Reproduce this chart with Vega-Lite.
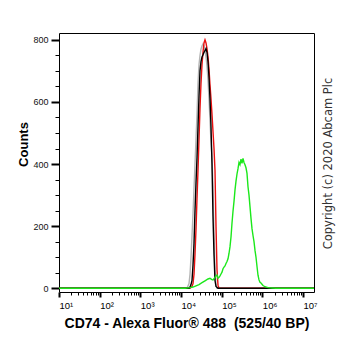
{
  "$schema": "https://vega.github.io/schema/vega-lite/v6.json",
  "width": 255,
  "height": 259,
  "autosize": {"type": "none"},
  "padding": {"left": 59, "top": 33, "right": 48, "bottom": 59},
  "background": "white",
  "config": {
    "view": {"stroke": "#000000", "strokeWidth": 1},
    "axis": {"labelFont": "Liberation Sans", "titleFont": "Liberation Sans", "tickColor": "#000000", "domain": false, "grid": false, "labelColor": "#111111", "titleColor": "#000000"}
  },
  "datasets": {
    "others": [
      {"s": "gray", "x": 10, "c": 0},
      {"s": "gray", "x": 14041, "c": 0},
      {"s": "gray", "x": 15726, "c": 15},
      {"s": "gray", "x": 16640, "c": 45},
      {"s": "gray", "x": 17610, "c": 100},
      {"s": "gray", "x": 18637, "c": 170},
      {"s": "gray", "x": 19723, "c": 240},
      {"s": "gray", "x": 20873, "c": 320},
      {"s": "gray", "x": 22083, "c": 400},
      {"s": "gray", "x": 23371, "c": 480},
      {"s": "gray", "x": 24733, "c": 560},
      {"s": "gray", "x": 26175, "c": 660},
      {"s": "gray", "x": 27701, "c": 720},
      {"s": "gray", "x": 29304, "c": 750},
      {"s": "gray", "x": 31013, "c": 770},
      {"s": "gray", "x": 32820, "c": 780},
      {"s": "gray", "x": 34734, "c": 787},
      {"s": "gray", "x": 36760, "c": 780},
      {"s": "gray", "x": 38891, "c": 765},
      {"s": "gray", "x": 41158, "c": 745},
      {"s": "gray", "x": 43558, "c": 715},
      {"s": "gray", "x": 46098, "c": 670},
      {"s": "gray", "x": 48785, "c": 610},
      {"s": "gray", "x": 51612, "c": 540},
      {"s": "gray", "x": 54621, "c": 470},
      {"s": "gray", "x": 57805, "c": 420},
      {"s": "gray", "x": 61175, "c": 330},
      {"s": "gray", "x": 64742, "c": 180},
      {"s": "gray", "x": 68495, "c": 60},
      {"s": "gray", "x": 72488, "c": 10},
      {"s": "gray", "x": 76714, "c": 0},
      {"s": "gray", "x": 18620000, "c": 0},
      {"s": "red", "x": 10, "c": 0},
      {"s": "red", "x": 16640, "c": 0},
      {"s": "red", "x": 18637, "c": 6},
      {"s": "red", "x": 19723, "c": 15},
      {"s": "red", "x": 20873, "c": 45},
      {"s": "red", "x": 22083, "c": 110},
      {"s": "red", "x": 23371, "c": 190},
      {"s": "red", "x": 24733, "c": 290},
      {"s": "red", "x": 26175, "c": 380},
      {"s": "red", "x": 27701, "c": 480},
      {"s": "red", "x": 29304, "c": 580},
      {"s": "red", "x": 31013, "c": 660},
      {"s": "red", "x": 32820, "c": 720},
      {"s": "red", "x": 34734, "c": 760},
      {"s": "red", "x": 36760, "c": 790},
      {"s": "red", "x": 38891, "c": 800},
      {"s": "red", "x": 41158, "c": 790},
      {"s": "red", "x": 43558, "c": 772},
      {"s": "red", "x": 46098, "c": 745},
      {"s": "red", "x": 48785, "c": 705},
      {"s": "red", "x": 51612, "c": 655},
      {"s": "red", "x": 54621, "c": 610},
      {"s": "red", "x": 57805, "c": 560},
      {"s": "red", "x": 61175, "c": 505},
      {"s": "red", "x": 64742, "c": 450},
      {"s": "red", "x": 68495, "c": 380},
      {"s": "red", "x": 72488, "c": 200},
      {"s": "red", "x": 76714, "c": 60},
      {"s": "red", "x": 81186, "c": 10},
      {"s": "red", "x": 85919, "c": 0},
      {"s": "red", "x": 18620000, "c": 0},
      {"s": "black", "x": 10, "c": 0},
      {"s": "black", "x": 15726, "c": 0},
      {"s": "black", "x": 16640, "c": 4},
      {"s": "black", "x": 17610, "c": 12},
      {"s": "black", "x": 18637, "c": 25},
      {"s": "black", "x": 19723, "c": 75},
      {"s": "black", "x": 20873, "c": 145},
      {"s": "black", "x": 22083, "c": 250},
      {"s": "black", "x": 23371, "c": 340},
      {"s": "black", "x": 24733, "c": 420},
      {"s": "black", "x": 26175, "c": 520},
      {"s": "black", "x": 27701, "c": 620},
      {"s": "black", "x": 29304, "c": 700},
      {"s": "black", "x": 31013, "c": 730},
      {"s": "black", "x": 32820, "c": 745},
      {"s": "black", "x": 34734, "c": 752},
      {"s": "black", "x": 36760, "c": 760},
      {"s": "black", "x": 38891, "c": 765},
      {"s": "black", "x": 41158, "c": 772},
      {"s": "black", "x": 43558, "c": 760},
      {"s": "black", "x": 46098, "c": 730},
      {"s": "black", "x": 48785, "c": 680},
      {"s": "black", "x": 51612, "c": 610},
      {"s": "black", "x": 54621, "c": 520},
      {"s": "black", "x": 57805, "c": 400},
      {"s": "black", "x": 61175, "c": 230},
      {"s": "black", "x": 64742, "c": 110},
      {"s": "black", "x": 68495, "c": 25},
      {"s": "black", "x": 72488, "c": 6},
      {"s": "black", "x": 81186, "c": 0},
      {"s": "black", "x": 18620000, "c": 0}
    ],
    "green": [
      {"x": 10, "c": 0},
      {"x": 12536, "c": 0},
      {"x": 16640, "c": 2},
      {"x": 19723, "c": 4},
      {"x": 23371, "c": 8},
      {"x": 27701, "c": 12},
      {"x": 32820, "c": 18},
      {"x": 38891, "c": 24},
      {"x": 46098, "c": 30},
      {"x": 51612, "c": 32},
      {"x": 57805, "c": 28},
      {"x": 61175, "c": 27},
      {"x": 64742, "c": 31},
      {"x": 68495, "c": 35},
      {"x": 72488, "c": 40},
      {"x": 76714, "c": 43},
      {"x": 81186, "c": 32},
      {"x": 85919, "c": 35},
      {"x": 90937, "c": 40},
      {"x": 96238, "c": 46},
      {"x": 101850, "c": 52},
      {"x": 107790, "c": 63},
      {"x": 114070, "c": 68},
      {"x": 120670, "c": 72},
      {"x": 127700, "c": 80},
      {"x": 135150, "c": 86},
      {"x": 143030, "c": 95},
      {"x": 151370, "c": 112},
      {"x": 160190, "c": 134},
      {"x": 169530, "c": 165},
      {"x": 179410, "c": 210},
      {"x": 189870, "c": 248},
      {"x": 200940, "c": 280},
      {"x": 212610, "c": 317},
      {"x": 225000, "c": 345},
      {"x": 238120, "c": 368},
      {"x": 252000, "c": 385},
      {"x": 266700, "c": 405},
      {"x": 282120, "c": 398},
      {"x": 298570, "c": 416},
      {"x": 315980, "c": 402},
      {"x": 334400, "c": 418},
      {"x": 353890, "c": 405},
      {"x": 374460, "c": 398},
      {"x": 396290, "c": 388},
      {"x": 419400, "c": 370},
      {"x": 443850, "c": 327},
      {"x": 469730, "c": 300},
      {"x": 496930, "c": 263},
      {"x": 525900, "c": 225},
      {"x": 556560, "c": 192},
      {"x": 589010, "c": 170},
      {"x": 623350, "c": 150},
      {"x": 659600, "c": 122},
      {"x": 698060, "c": 100},
      {"x": 738760, "c": 70},
      {"x": 781830, "c": 42},
      {"x": 827410, "c": 27},
      {"x": 875550, "c": 19},
      {"x": 926590, "c": 17},
      {"x": 980610, "c": 13},
      {"x": 1037800, "c": 9},
      {"x": 1161900, "c": 5},
      {"x": 1377200, "c": 2},
      {"x": 1727500, "c": 1},
      {"x": 2166000, "c": 0},
      {"x": 18620000, "c": 0}
    ]
  },
  "encoding": {
    "x": {
      "field": "x",
      "type": "quantitative",
      "scale": {"type": "log", "domain": [10, 18620000], "nice": false},
      "axis": {
        "values": [10,20,30,40,50,60,70,80,90,100,200,300,400,500,600,700,800,900,1000,2000,3000,4000,5000,6000,7000,8000,9000,10000,20000,30000,40000,50000,60000,70000,80000,90000,100000,200000,300000,400000,500000,600000,700000,800000,900000,1000000,2000000,3000000,4000000,5000000,6000000,7000000,8000000,9000000,10000000],
        "labelExpr": "abs(log(datum.value)/LN10 - round(log(datum.value)/LN10)) < 0.001 ? '10' + ['⁰','¹','²','³','⁴','⁵','⁶','⁷'][round(log(datum.value)/LN10)] : ''",
        "tickSize": {"condition": {"test": "abs(log(datum.value)/LN10 - round(log(datum.value)/LN10)) < 0.001", "value": 5}, "value": 3},
        "tickWidth": {"condition": {"test": "abs(log(datum.value)/LN10 - round(log(datum.value)/LN10)) < 0.001", "value": 2}, "value": 1},
        "labelOverlap": false,
        "labelFlush": false,
        "labelBound": false,
        "labelAlign": "left",
        "labelDx": -1,
        "labelPadding": 3,
        "labelFontSize": 9.5,
        "labelColor": "#000000",
        "title": "CD74 - Alexa Fluor® 488 \u00a0(525/40 BP)",
        "titleFontSize": 14,
        "titleFontWeight": "bold",
        "titleBaseline": "alphabetic",
        "titleY": 35
      }
    },
    "y": {
      "field": "c",
      "type": "quantitative",
      "scale": {"domain": [-12, 822], "nice": false, "zero": false},
      "axis": {
        "values": [0,50,100,150,200,250,300,350,400,450,500,550,600,650,700,750,800],
        "labelExpr": "datum.value % 200 === 0 ? datum.label : ''",
        "tickSize": {"condition": {"test": "datum.value % 200 === 0", "value": 8}, "value": 4},
        "tickWidth": {"condition": {"test": "datum.value % 200 === 0", "value": 2}, "value": 1},
        "labelOverlap": false,
        "labelFontSize": 9,
        "labelPadding": 3,
        "title": "Counts",
        "titleFontSize": 13,
        "titleFontWeight": "bold",
        "titleAngle": 270,
        "titleBaseline": "alphabetic",
        "titleAlign": "center",
        "titleX": -32,
        "titleY": 111
      }
    }
  },
  "layer": [
    {
      "data": {"name": "others"},
      "mark": {"type": "line", "strokeWidth": 1.4},
      "encoding": {
        "color": {"field": "s", "type": "nominal", "scale": {"domain": ["gray", "red", "black"], "range": ["#b4b4b4", "#e81010", "#000000"]}, "legend": null}
      }
    },
    {
      "data": {"name": "green"},
      "mark": {"type": "line", "strokeWidth": 1.4, "color": "#1be81b"},
      "encoding": {
        "y": {
          "field": "c",
          "type": "quantitative",
          "axis": {
            "orient": "right",
            "labels": false,
            "ticks": false,
            "domain": false,
            "title": "Copyright (c) 2020 Abcam Plc",
            "titleFont": "DejaVu Sans",
            "titleFontSize": 11.5,
            "titleFontWeight": "normal",
            "titleColor": "#333333",
            "titleAngle": 270,
            "titleBaseline": "middle",
            "titleAlign": "center",
            "titleX": 14,
            "titleY": 130
          }
        }
      }
    }
  ],
  "resolve": {"axis": {"y": "independent"}}
}
